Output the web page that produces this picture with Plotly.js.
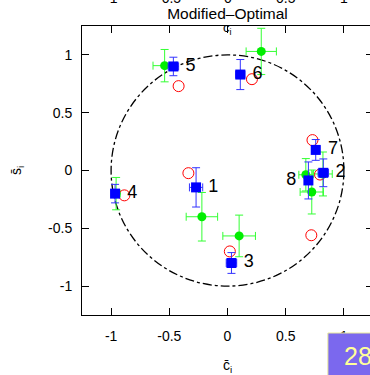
<!DOCTYPE html>
<html><head><meta charset="utf-8">
<script src="https://cdn.plot.ly/plotly-3.0.1.min.js"></script>
<style>html,body{margin:0;padding:0;overflow:hidden;background:#fff;width:370px;height:375px}</style>
</head><body>
<div id="chart" style="width:376px;height:375px"></div>
<script>
var labels = ["\u00a01","\u00a02","\u00a03","\u00a04","\u00a05","\u00a06","\u00a07","8\u00a0"];
var labelPos = ["middle right","middle right","middle right","middle right","middle right","middle right","middle right","middle left"];
// Blue squares (measured)
var blueX = [-0.27, 0.823, 0.034, -0.966, -0.465, 0.11, 0.758, 0.695];
var blueY = [-0.146, -0.02, -0.80, -0.20, 0.90, 0.83, 0.178, -0.086];
var blueXErr = [0.057, 0.045, 0.045, 0.03, 0.045, 0.04, 0.035, 0.03];
var blueYErr = [0.17, 0.12, 0.09, 0.08, 0.08, 0.13, 0.09, 0.16];
// Green circles
var greenX = [-0.22, 0.82, 0.10, -0.957, -0.54, 0.29, 0.673, 0.724];
var greenY = [-0.40, -0.03, -0.566, -0.20, 0.907, 1.03, -0.037, -0.186];
var greenXErr = [0.135, 0.08, 0.14, 0.035, 0.10, 0.13, 0.06, 0.10];
var greenYErr = [0.21, 0.19, 0.18, 0.14, 0.14, 0.20, 0.14, 0.19];
// Red open circles
var redX = [-0.336, 0.795, 0.02, -0.886, -0.42, 0.21, 0.73, 0.72];
var redY = [-0.023, -0.035, -0.70, -0.215, 0.73, 0.79, 0.263, -0.56];
// Axis ticks
var tickVals = [-1, -0.5, 0, 0.5, 1];
var tickText = ["-1", "-0.5", "0", "0.5", "1"];
var pageNumber = "28";

var FONT = "Liberation Sans, Arial, sans-serif";

var traces = [
  {x: greenX, y: greenY, mode: "markers", type: "scatter",
   marker: {color: "#00ee00", size: 9, symbol: "circle"},
   error_x: {type: "data", array: greenXErr, visible: true, color: "#33ff33", thickness: 1, width: 4},
   error_y: {type: "data", array: greenYErr, visible: true, color: "#33ff33", thickness: 1, width: 4},
   hoverinfo: "skip"},
  {x: redX, y: redY, mode: "markers", type: "scatter",
   marker: {color: "#ff0000", size: 11, symbol: "circle-open", line: {color: "#ff0000", width: 1}},
   hoverinfo: "skip"},
  {x: blueX, y: blueY, mode: "markers+text", type: "scatter",
   text: labels, textposition: labelPos,
   textfont: {family: FONT, size: 18, color: "#000"},
   marker: {color: "#0000ff", size: 10, symbol: "square"},
   error_x: {type: "data", array: blueXErr, visible: true, color: "#3333ff", thickness: 1, width: 4},
   error_y: {type: "data", array: blueYErr, visible: true, color: "#3333ff", thickness: 1, width: 4},
   hoverinfo: "skip"}
];

var annotations = [
  {xref: "x", yref: "paper", x: 0, y: 1, yanchor: "middle", xanchor: "center", yshift: -2,
   text: "c<sub>i</sub>", showarrow: false, font: {family: FONT, size: 13, color: "#000"}},
  {xref: "paper", yref: "paper", x: -0.225, y: 0.5, xanchor: "center", yanchor: "middle", textangle: -90,
   text: "s\u0304<sub>i</sub>", showarrow: false, font: {family: FONT, size: 14, color: "#000"}}
];
for (var i = 0; i < tickVals.length; i++) {
  annotations.push({xref: "x", yref: "paper", x: tickVals[i], y: 1.063, yanchor: "bottom", xanchor: "center",
    text: tickText[i], showarrow: false, font: {family: FONT, size: 14, color: "#000"}});
}
annotations.push({xref: "paper", yref: "paper", x: 0.895, y: -0.142, xanchor: "left", yanchor: "middle",
  text: pageNumber, showarrow: false, font: {family: FONT, size: 25, color: "#ffff99"}});

var axisCommon = {
  range: [-1.25, 1.25], tickvals: tickVals, ticktext: tickText,
  ticks: "inside", ticklen: 7, tickcolor: "#000", tickwidth: 1,
  showline: true, linecolor: "#000", linewidth: 1, mirror: "ticks",
  showgrid: false, zeroline: false,
  tickfont: {family: FONT, size: 14, color: "#000"}
};

var layout = {
  width: 376, height: 375,
  margin: {l: 82, r: 3, t: 26, b: 60},
  paper_bgcolor: "#fff", plot_bgcolor: "#fff",
  showlegend: false,
  title: {text: "Modified\u2013Optimal", font: {family: FONT, size: 15.5, color: "#000"}, x: 0.5, xref: "paper", y: 0.963, yanchor: "middle"},
  xaxis: Object.assign({}, axisCommon, {title: {text: "c\u0304<sub>i</sub>", font: {family: FONT, size: 14, color: "#000"}, standoff: 18}, ticklabelstandoff: 8}),
  yaxis: Object.assign({}, axisCommon, {ticklabelstandoff: 6}),
  shapes: [
    {type: "circle", xref: "x", yref: "y", x0: -1, x1: 1, y0: -1, y1: 1,
     line: {color: "#000", width: 1.3, dash: "dashdot"}, layer: "below"},
    {type: "rect", xref: "paper", yref: "paper", x0: 0.845, x1: 1.03, y0: -0.25, y1: -0.0623,
     fillcolor: "#7b68ee", line: {color: "#e8e89a", width: 1}, layer: "above"}
  ],
  annotations: annotations
};

Plotly.newPlot("chart", traces, layout, {staticPlot: true, displayModeBar: false});
</script>
</body></html>
